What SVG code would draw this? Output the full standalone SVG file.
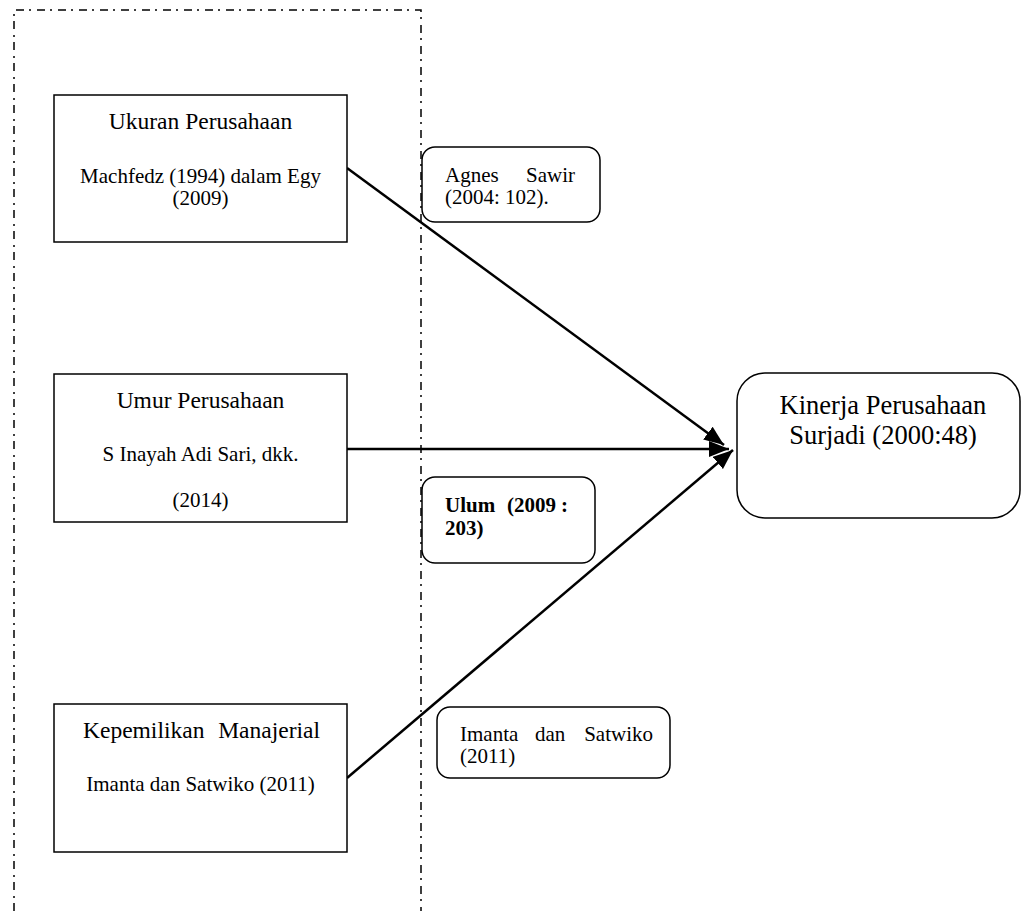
<svg xmlns="http://www.w3.org/2000/svg" width="1022" height="911" viewBox="0 0 1022 911">
<style>
text{font-family:"Liberation Serif","Times New Roman",serif;fill:#000}
.t{font-size:23.5px}
.s{font-size:21px}
.k{font-size:26.5px}
.b{font-weight:bold}
.box{fill:#fff;stroke:#000;stroke-width:1.5}
.dd{fill:none;stroke:#000;stroke-width:1.5;stroke-dasharray:8 5 2 6}
.c{fill:none;stroke:#000;stroke-width:2.5}
</style>
<defs>
<marker id="ah" viewBox="0 0 20 16" refX="20" refY="8" markerWidth="20" markerHeight="16" orient="auto" markerUnits="userSpaceOnUse">
<path d="M0,0 L20,8 L0,16 z" fill="#000"/>
</marker>
</defs>
<g id="frame">
<path class="dd" d="M14,911 V10 H421 V911"/>
</g>
<g id="connectors">
<line class="c" x1="347" y1="168" x2="724" y2="445" marker-end="url(#ah)"/>
<line class="c" x1="347" y1="449" x2="729" y2="449" marker-end="url(#ah)"/>
<line class="c" x1="347" y1="778" x2="733" y2="450" marker-end="url(#ah)"/>
</g>
<g id="ukuran">
<rect class="box" x="54" y="95" width="293" height="147"/>
<text class="t" x="200.5" y="129" text-anchor="middle">Ukuran Perusahaan</text>
<text class="s" x="200.5" y="183" text-anchor="middle">Machfedz (1994) dalam Egy</text>
<text class="s" x="200.5" y="205" text-anchor="middle">(2009)</text>
</g>
<g id="umur">
<rect class="box" x="54" y="374" width="293" height="148"/>
<text class="t" x="200.5" y="408" text-anchor="middle">Umur Perusahaan</text>
<text class="s" x="200.5" y="461" text-anchor="middle">S Inayah Adi Sari, dkk.</text>
<text class="s" x="200.5" y="507" text-anchor="middle">(2014)</text>
</g>
<g id="kepemilikan">
<rect class="box" x="54" y="704" width="293" height="148"/>
<text class="t" x="83" y="738">Kepemilikan</text>
<text class="t" x="320" y="738" text-anchor="end">Manajerial</text>
<text class="s" x="200.5" y="791" text-anchor="middle">Imanta dan Satwiko (2011)</text>
</g>
<g id="kinerja">
<rect class="box" x="737" y="373" width="283" height="145" rx="28" ry="28"/>
<text class="k" x="883" y="414" text-anchor="middle">Kinerja Perusahaan</text>
<text class="k" x="883" y="444" text-anchor="middle">Surjadi (2000:48)</text>
</g>
<g id="agnes">
<rect class="box" x="422" y="147" width="178" height="75" rx="13" ry="13"/>
<text class="s" x="445" y="182">Agnes</text>
<text class="s" x="575" y="182" text-anchor="end">Sawir</text>
<text class="s" x="445" y="204">(2004: 102).</text>
</g>
<g id="ulum">
<rect class="box" x="422" y="477" width="173" height="86" rx="13" ry="13"/>
<text class="s b" x="445" y="512">Ulum</text>
<text class="s b" x="507" y="512">(2009</text>
<text class="s b" x="568" y="512" text-anchor="end">:</text>
<text class="s b" x="445" y="535">203)</text>
</g>
<g id="imanta">
<rect class="box" x="437" y="707" width="233" height="71" rx="13" ry="13"/>
<text class="s" x="460" y="741">Imanta</text>
<text class="s" x="535" y="741">dan</text>
<text class="s" x="653" y="741" text-anchor="end">Satwiko</text>
<text class="s" x="460" y="763">(2011)</text>
</g>
</svg>
